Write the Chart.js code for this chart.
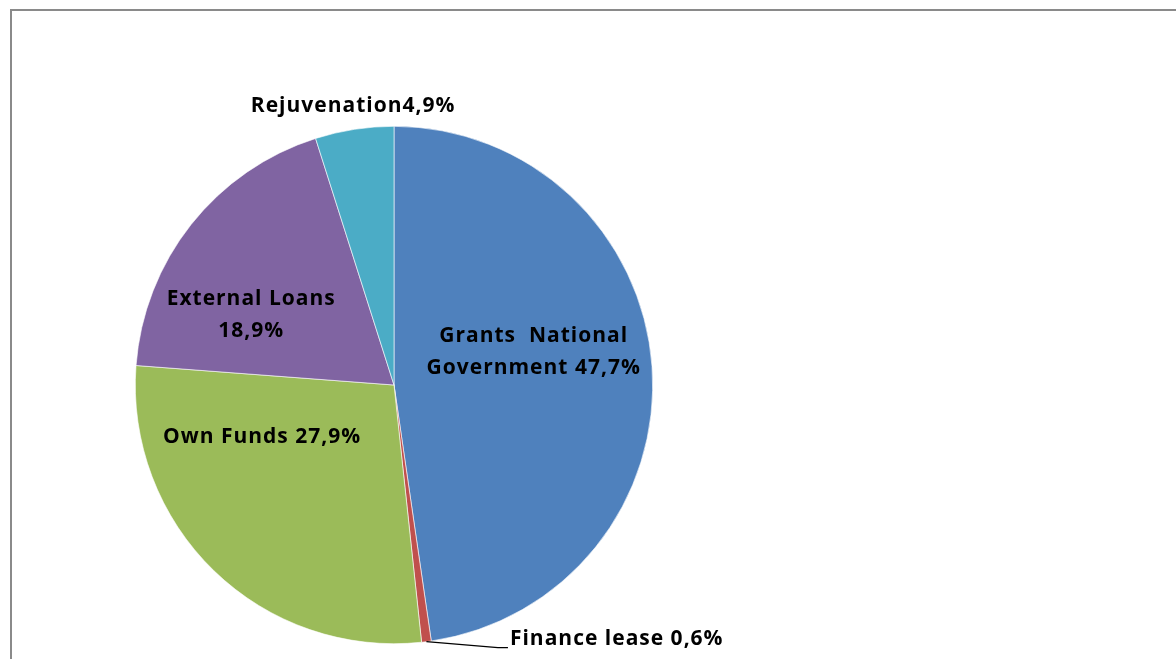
<!DOCTYPE html>
<html>
<head>
<meta charset="utf-8">
<script src="https://cdn.jsdelivr.net/npm/chart.js@4/dist/chart.umd.min.js"></script>
<style>
  html, body { margin: 0; padding: 0; background: #fff; }
  #wrap { width: 1176px; height: 659px; position: relative; }
</style>
</head>
<body>
<div id="wrap"><canvas id="c" width="1176" height="659"></canvas></div>
<script>
// ---- data ----
const categories = ["Grants  National Government", "Finance lease", "Own Funds", "External Loans", "Rejuvenation"];
const shares = [47.7, 0.6, 27.9, 18.9, 4.9];
const labelLines = [
  ["Grants  National", "Government 47,7%"],
  ["Finance lease 0,6%"],
  ["Own Funds 27,9%"],
  ["External Loans", "18,9%"],
  ["Rejuvenation4,9%"]
];

// ---- style ----
const colors = ["#4F81BD", "#C0504D", "#9BBB59", "#8064A2", "#4BACC6"];
// label anchor offsets relative to pie center, in units of radius
const labelOffsets = [
  [0.54, -0.127],
  [0.861, 0.98],
  [-0.51, 0.20],
  [-0.552, -0.27],
  [-0.158, -1.077]
];
const leaderFor = [false, true, false, false, false];
const FONT = "bold 21px 'Open Sans', sans-serif";
const LINE_H = 32;

const framePlugin = {
  id: 'frame',
  beforeDraw(chart) {
    const ctx = chart.ctx;
    ctx.save();
    ctx.fillStyle = '#fff';
    ctx.fillRect(0, 0, chart.width, chart.height);
    ctx.strokeStyle = '#8a8a8a';
    ctx.lineWidth = 2;
    ctx.strokeRect(11, 10, chart.width + 20, chart.height + 20);
    ctx.restore();
  }
};

const labelPlugin = {
  id: 'sliceLabels',
  afterDatasetsDraw(chart) {
    const ctx = chart.ctx;
    const meta = chart.getDatasetMeta(0);
    ctx.save();
    ctx.font = FONT;
    if ('letterSpacing' in ctx) ctx.letterSpacing = '1px';
    ctx.fillStyle = '#000';
    ctx.textAlign = 'center';
    ctx.textBaseline = 'middle';
    meta.data.forEach((arc, i) => {
      const r = arc.outerRadius;
      const cx = arc.x + labelOffsets[i][0] * r;
      const cy = arc.y + labelOffsets[i][1] * r;
      const lines = labelLines[i];
      const top = cy - (lines.length - 1) * LINE_H / 2;
      lines.forEach((t, k) => ctx.fillText(t, cx, top + k * LINE_H));
      if (leaderFor[i]) {
        const mid = (arc.startAngle + arc.endAngle) / 2;
        const px = arc.x + Math.cos(mid) * r;
        const py = arc.y + Math.sin(mid) * r;
        const w = ctx.measureText(lines[0]).width;
        const lx = cx - w / 2 - 2;
        ctx.strokeStyle = '#000';
        ctx.lineWidth = 1.2;
        ctx.beginPath();
        ctx.moveTo(px, py);
        ctx.lineTo(lx - 10, cy + 9);
        ctx.lineTo(lx, cy + 9);
        ctx.stroke();
      }
    });
    ctx.restore();
  }
};

new Chart(document.getElementById('c'), {
  type: 'pie',
  data: {
    labels: categories,
    datasets: [{
      data: shares,
      backgroundColor: colors,
      borderColor: '#ffffff',
      borderWidth: 0.6
    }]
  },
  options: {
    responsive: false,
    animation: false,
    layout: { padding: { top: 126, bottom: 15, left: 135, right: 523 } },
    plugins: {
      legend: { display: false },
      tooltip: { enabled: false },
      title: { display: false }
    }
  },
  plugins: [framePlugin, labelPlugin]
});
</script>
</body>
</html>
